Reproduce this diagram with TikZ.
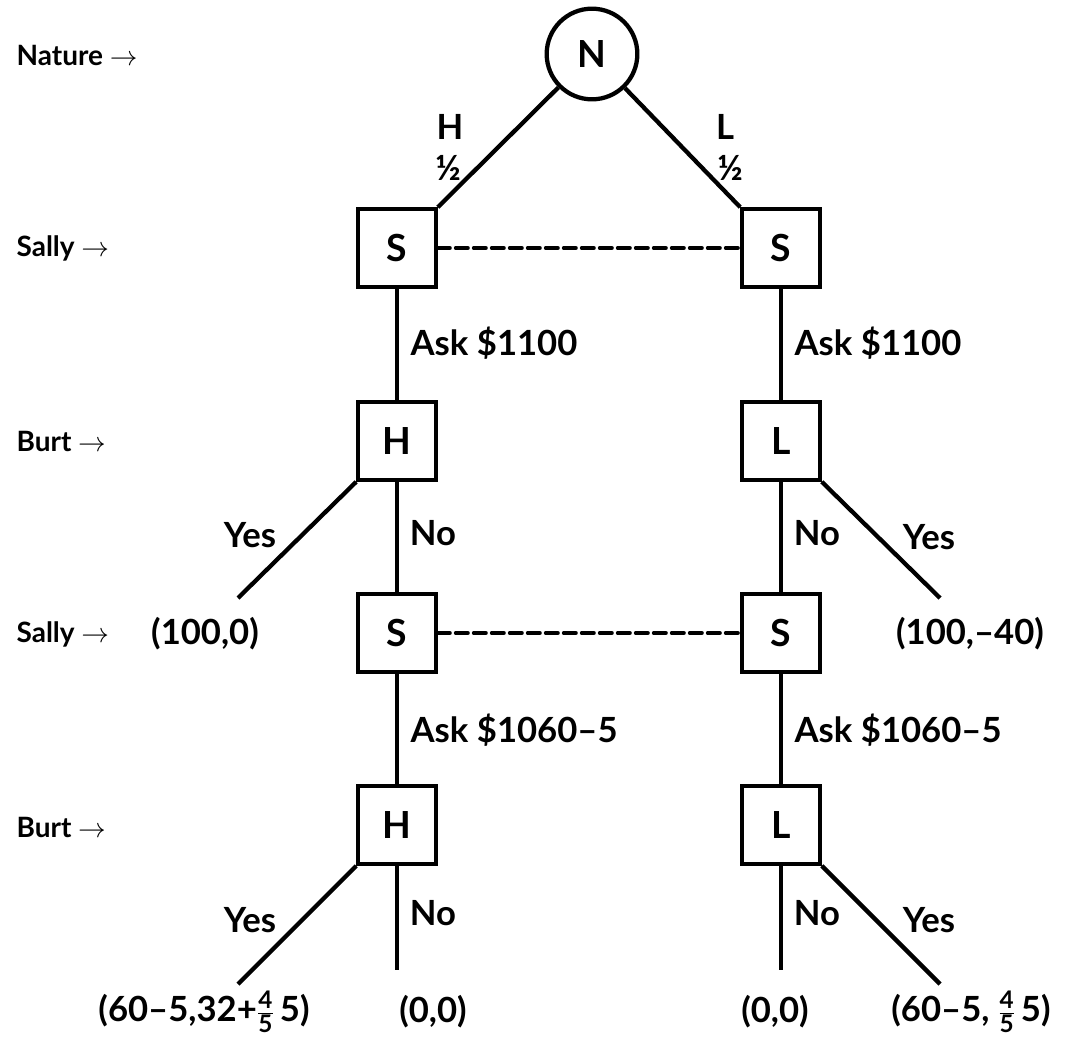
\documentclass[tikz,border=0pt]{standalone}
\usepackage{amsmath}
\usepackage{fontspec}
\setmainfont{Lato}
\usepackage{tikz}

\begin{document}
\begin{tikzpicture}[x=0.75pt,y=-0.75pt,line width=3.2pt,
		move/.style={font=\fontsize{26}{30}\selectfont\bfseries},
		side/.style={font=\fontsize{21}{25}\selectfont\bfseries,anchor=west},
		box/.style={draw,rectangle,minimum size=58pt,inner sep=0pt,font=\fontsize{28}{32}\selectfont\bfseries},
		info/.style={dash pattern=on 9pt off 4.5pt,line cap=round,line width=3pt}]
			\useasboundingbox (0,0) rectangle (1066,1039);
			% players
			\node[side](pn) at (10,55) {Nature $\rightarrow$};
			\node[side](ps1) at (10,248) {Sally $\rightarrow$};
			\node[side](pb1) at (10,441) {Burt $\rightarrow$};
			\node[side](ps2) at (10,634) {Sally $\rightarrow$};
			\node[side](pb2) at (10,827) {Burt $\rightarrow$};
			% tree
			\node[circle,draw,minimum size=68pt,inner sep=0pt,font=\fontsize{28}{32}\selectfont\bfseries](n) at (592,54) {N};
			\node[box](s1) at (397,248) {S};
			\node[box](s2) at (781,248) {S};
			\node[box](h1) at (397,441) {H};
			\node[box](l1) at (781,441) {L};
			\node[box](s3) at (397,633) {S};
			\node[box](s4) at (781,633) {S};
			\node[box](h2) at (397,825) {H};
			\node[box](l2) at (781,825) {L};
			\coordinate (y1) at (238,598);
			\coordinate (y2) at (940,598);
			\coordinate (y3) at (238,984);
			\coordinate (n3) at (397,970);
			\coordinate (n4) at (781,970);
			\coordinate (y4) at (940,984);
			\draw (n)--(s1.north east);
			\draw (n)--(s2.north west);
			\draw[info] (s1.east)--(s2.west);
			\draw[info] (s3.east)--(s4.west);
			\draw (s1)--(h1);
			\draw (s2)--(l1);
			\draw (h1)--(s3);
			\draw (l1)--(s4);
			\draw (s3)--(h2);
			\draw (s4)--(l2);
			\draw (h1.south west)--(y1);
			\draw (l1.south east)--(y2);
			\draw (h2.south west)--(y3);
			\draw (h2)--(n3);
			\draw (l2)--(n4);
			\draw (l2.south east)--(y4);
			% labels
			\node[move](ph) at (450,127) {H};
			\node[move](pl) at (725,127) {L};
			\node[move](qh) at (448,168) {½};
			\node[move](ql) at (730,168) {½};
			\node[move,anchor=west](a1) at (404,343) {Ask \$1100};
			\node[move,anchor=west](a2) at (788,343) {Ask \$1100};
			\node[move,anchor=west](a3) at (404,730) {Ask \$1060–5};
			\node[move,anchor=west](a4) at (788,730) {Ask \$1060–5};
			\node[move](yes1) at (250,535) {Yes};
			\node[move](no1) at (433,533) {No};
			\node[move](no2) at (817,533) {No};
			\node[move](yes2) at (929,537) {Yes};
			\node[move](yes3) at (250,920) {Yes};
			\node[move](no3) at (433,913) {No};
			\node[move](no4) at (817,913) {No};
			\node[move](yes4) at (929,920) {Yes};
			% payoffs
			\node[move](o1) at (205,634) {(100,0)};
			\node[move](o2) at (970,634) {(100,–40)};
			\node[move](o3) at (204,1012) {(60–5,32+$\frac{\text{4}}{\text{5}}$\,5)};
			\node[move](o4) at (433,1012) {(0,0)};
			\node[move](o5) at (775,1012) {(0,0)};
			\node[move](o6) at (971,1012) {(60–5, $\frac{\text{4}}{\text{5}}$\,5)};
\end{tikzpicture}
\end{document}
